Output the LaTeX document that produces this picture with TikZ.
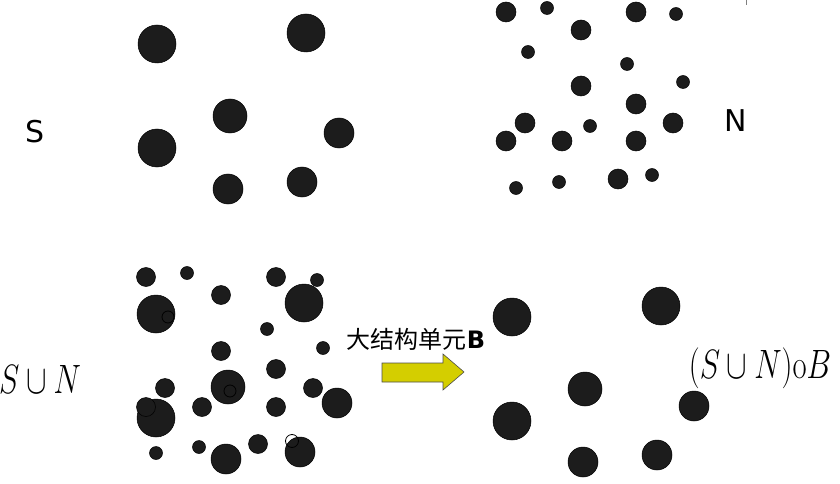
\documentclass[tikz,border=0pt]{standalone}
\usepackage{fix-cm}
\usepackage[no-math]{fontspec}
\newfontfamily\sansfnt{DejaVu Sans}
\newfontfamily\cjk{Noto Sans CJK SC}
\definecolor{dotgray}{RGB}{28,28,28}
\definecolor{arrowyellow}{RGB}{212,206,0}
\tikzset{
  dot/.style={fill=dotgray,draw=black,line width=0.5pt},
  ring/.style={draw=black,line width=0.8pt},
  setlabel/.style={font=\sansfnt\fontsize{30}{30}\selectfont},
  mathlabel/.style={font=\fontsize{41}{41}\selectfont}
}
\begin{document}
\begin{tikzpicture}[x=1pt,y=-1pt]
\useasboundingbox (0,0) rectangle (840,484);

% ensemble S (en haut a gauche)
\foreach \x/\y/\r in {157/44/19, 306/33/19, 230/116/17, 339/133/15,
                      157/148/19, 228/189/15, 302/182/15}
  \filldraw[dot] (\x,\y) circle (\r);
\node[setlabel] (labS) at (35,132) {S};

% ensemble N (en haut a droite)
\foreach \x/\y/\r in {506/12/10, 547/8/6.5, 636/12/10, 676/14/6.5,
                      581/30/10, 528/52/6.5, 627/64/6.5, 581/86/10,
                      683/82/6.5, 636/104/10, 525/123/10, 590/126/6.5,
                      673/123/10, 506/141/10, 562/141/10, 636/141/10,
                      516/188/6.5, 559/182/6.5, 618/179/10, 652/175/6.5}
  \filldraw[dot] (\x,\y) circle (\r);
\node[setlabel] (labN) at (736,121) {N};
\draw[gray,line width=0.6pt] (746,0) -- (746,5);

% union S et N (en bas a gauche)
\foreach \x/\y/\r in {156/314/19, 304/303/19, 228/387/17, 337/403/15,
                      156/418/19, 226/459/15, 300/452/15}
  \filldraw[dot] (\x,\y) circle (\r);
\foreach \x/\y/\r in {146/277/9.5, 187/273/6.5, 276/277/9.5, 317/280/6.5,
                      221/295/9.5, 267/329/6.5, 323/348/6.5, 221/351/9.5,
                      276/369/9.5, 165/388/9.5, 313/388/9.5, 146/407/9.5,
                      202/407/9.5, 276/407/9.5, 156/453/6.5, 199/447/6.5,
                      258/444/9.5}
  \filldraw[dot] (\x,\y) circle (\r);
\foreach \x/\y/\r in {168/317/6, 230/391/6, 292/441/6.5}
  \draw[ring] (\x,\y) circle (\r);
\node[mathlabel] (labSN) at (40,379) {\scalebox{0.75}[1]{$S\cup N$}};

% fleche
\node[font=\fontsize{24}{24}\selectfont] (labB) at (416,339)
  {\cjk 大结构单元\sansfnt\bfseries B};
\filldraw[fill=arrowyellow,draw=black!70,line width=0.6pt]
  (382,363) -- (443,363) -- (443,354) -- (464,372)
  -- (443,390) -- (443,382) -- (382,382) -- cycle;

% resultat (en bas a droite)
\foreach \x/\y/\r in {512/317/19, 661/306/19, 585/389/17, 512/421/19,
                      694/406/15, 583/462/15, 657/455/15}
  \filldraw[dot] (\x,\y) circle (\r);
\node[mathlabel] (labRes) at (760,368)
  {\scalebox{0.75}[1]{$\Bigl(S\cup N\Bigr)\mathrm{o}B$}};

\end{tikzpicture}
\end{document}
